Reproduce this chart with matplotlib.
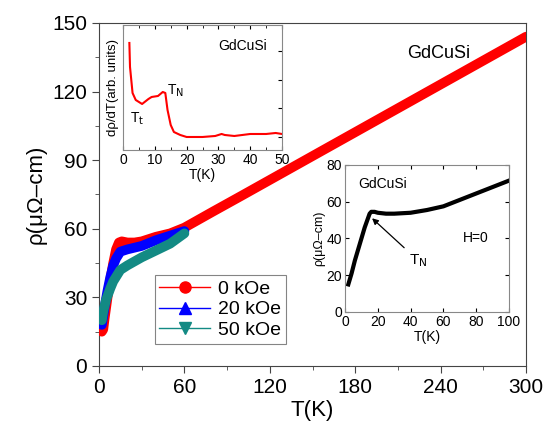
import numpy as np
import matplotlib
matplotlib.use('Agg')
import matplotlib.pyplot as plt
from matplotlib.lines import Line2D
from matplotlib.ticker import MultipleLocator

plt.rcParams['font.family'] = ['Liberation Sans', 'DejaVu Sans']

# main panel: resistivity vs T for three fields
t0 = [2, 3, 4, 6, 8, 10, 12, 14, 16, 20, 25, 30, 40, 50, 60, 80, 100, 150, 200, 250, 300]
rho0 = [15, 16, 21, 30, 38, 45, 51, 54, 54.5, 54, 54, 54.5, 56.5, 58, 60.5, 67.5, 74.4, 91.8, 109.2, 126.6, 144]
t20 = [2, 4, 6, 8, 10, 12, 15, 20, 30, 40, 50, 60]
rho20 = [18, 26, 33, 39, 44, 47, 50, 51, 52.5, 55, 57, 59]
t50 = [2, 3, 5, 8, 10, 15, 20, 30, 40, 50, 60]
rho50 = [20, 24, 29, 34, 37, 42, 44, 47.5, 50.5, 53.5, 58]

# inset 1: d(rho)/dT (arb. units)
t_d = [2, 2.2, 3, 4, 6, 8, 9, 11, 12.5, 13.3, 14, 15, 16, 18, 20, 25, 29, 31, 32, 35, 40, 45, 48, 50]
drho = [107, 83, 57, 50, 46, 51, 53, 54, 58, 57, 40, 25, 18, 15, 13, 13, 14, 16, 15, 14, 16, 16, 17, 16]

# inset 2: zero-field rho, low T
t_in = [2, 4, 6, 8, 10, 12, 14, 15, 16, 18, 20, 25, 30, 40, 50, 60, 70, 80, 90, 100]
rho_in = [15, 21, 28, 34, 40, 46, 51, 53.5, 54.5, 54.5, 54, 53.5, 53.5, 54, 55.5, 57.5, 61, 64.5, 68, 71.5]

teal = '#138a84'

fig = plt.figure(figsize=(5.46, 4.32), dpi=100)
ax = fig.add_axes([0.1813, 0.1528, 0.7821, 0.794])
ax.plot(t0, rho0, color='red', lw=7, solid_capstyle='round', zorder=3)
ax.plot(t20, rho20, color='blue', lw=7, solid_capstyle='round', zorder=4)
ax.plot(t50, rho50, color=teal, lw=7, solid_capstyle='round', zorder=5)
ax.set_xlim(0, 300)
ax.set_ylim(0, 150)
ax.set_xticks([0, 60, 120, 180, 240, 300])
ax.set_yticks([0, 30, 60, 90, 120, 150])
ax.xaxis.set_minor_locator(MultipleLocator(30))
ax.yaxis.set_minor_locator(MultipleLocator(15))
ax.tick_params(which='major', direction='out', length=5, labelsize=15, color='#444444')
ax.tick_params(which='minor', direction='out', length=3, color='#444444')
for s in ax.spines.values():
    s.set_color('#444444')
ax.set_xlabel('T(K)', fontsize=16, labelpad=2)
ax.set_ylabel('ρ(μΩ–cm)', fontsize=16, labelpad=4)
ax.text(0.795, 0.91, 'GdCuSi', transform=ax.transAxes, fontsize=13, ha='center', va='center')

handles = [
    Line2D([], [], color='red', lw=1, marker='o', ms=8),
    Line2D([], [], color='blue', lw=1, marker='^', ms=8),
    Line2D([], [], color=teal, lw=1, marker='v', ms=8),
]
leg = ax.legend(handles, ['0 kOe', '20 kOe', '50 kOe'], loc='lower left',
                bbox_to_anchor=(0.13, 0.065), fontsize=14, frameon=True, fancybox=False,
                handlelength=2.6, handletextpad=0.4, borderpad=0.25, labelspacing=0.15,
                borderaxespad=0)
leg.get_frame().set_edgecolor('#666666')
leg.get_frame().set_linewidth(0.8)

# inset 1
ax1 = fig.add_axes([0.2253, 0.6528, 0.2912, 0.2894])
ax1.plot(t_d, drho, color='red', lw=1.5)
ax1.set_xlim(0, 50)
ax1.set_ylim(0, 125)
ax1.set_xticks([0, 10, 20, 30, 40, 50])
ax1.xaxis.set_minor_locator(MultipleLocator(5))
ax1.set_yticks([13, 41.5, 70, 98.5])
ax1.tick_params(axis='x', which='both', direction='in', top=True, labelsize=10, pad=2)
ax1.tick_params(axis='x', which='major', length=3)
ax1.tick_params(axis='x', which='minor', length=2)
ax1.tick_params(axis='y', direction='in', left=False, right=True, labelleft=False, length=3)
for s in ax1.spines.values():
    s.set_color('#888888')
ax1.set_xlabel('T(K)', fontsize=10, labelpad=1)
ax1.set_ylabel('dρ/dT(arb. units)', fontsize=9.5, labelpad=3)
ax1.text(0.75, 0.83, 'GdCuSi', transform=ax1.transAxes, fontsize=10, ha='center', va='center')
ax1.text(2.2, 27, 'T$_{\\rm t}$', fontsize=10)
ax1.text(13.8, 55, 'T$_{\\rm N}$', fontsize=10)

# inset 2
ax2 = fig.add_axes([0.6319, 0.2778, 0.3004, 0.3403])
ax2.plot(t_in, rho_in, color='black', lw=3)
ax2.set_xlim(0, 100)
ax2.set_ylim(0, 80)
ax2.set_xticks([0, 20, 40, 60, 80, 100])
ax2.set_yticks([0, 20, 40, 60, 80])
ax2.tick_params(direction='in', top=True, right=True, labelsize=10, length=3, pad=2)
for s in ax2.spines.values():
    s.set_color('#888888')
ax2.set_xlabel('T(K)', fontsize=10, labelpad=1)
ax2.set_ylabel('ρ(μΩ–cm)', fontsize=9, labelpad=1)
ax2.text(0.23, 0.87, 'GdCuSi', transform=ax2.transAxes, fontsize=10, ha='center', va='center')
ax2.text(0.80, 0.5, 'H=0', transform=ax2.transAxes, fontsize=10, ha='center', va='center')
ax2.annotate('T$_{\\rm N}$', xy=(16.5, 51), xytext=(39, 26), fontsize=11,
             arrowprops=dict(arrowstyle='-|>', color='black', lw=0.9, shrinkA=2, shrinkB=0,
                             mutation_scale=9))

fig.savefig('out.png', dpi=100)
